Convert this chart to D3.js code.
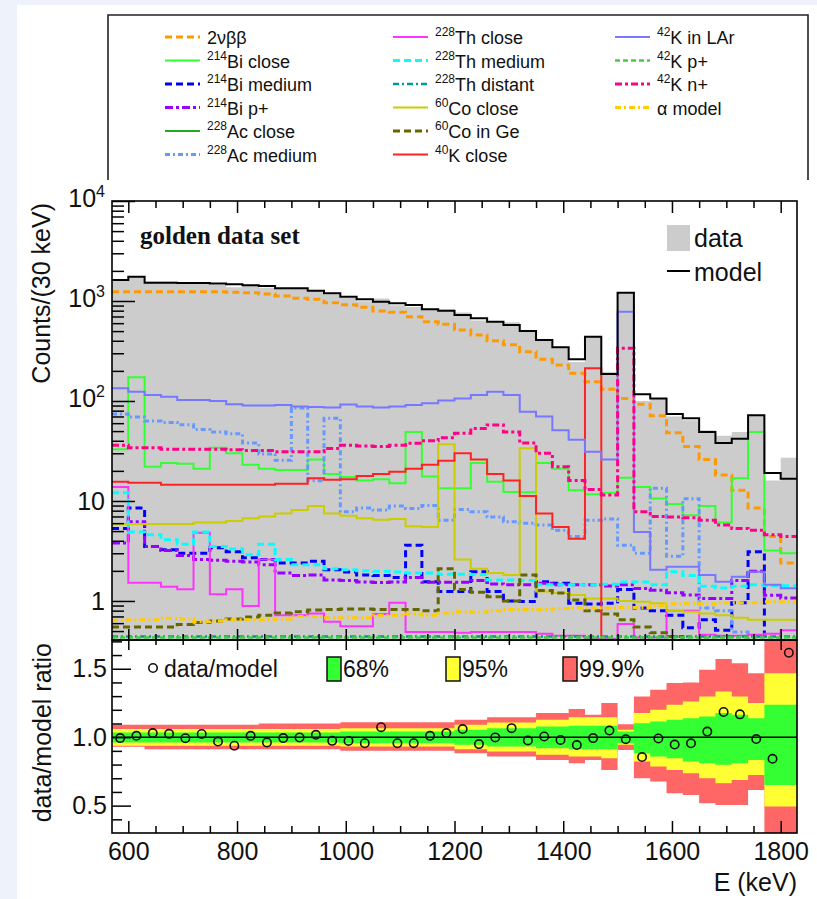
<!DOCTYPE html>
<html>
<head>
<meta charset="utf-8">
<script src="https://cdn.jsdelivr.net/npm/d3@7"></script>
<style>
  body { margin: 0; background: #fff; }
  svg { display: block; }
</style>
</head>
<body>
<svg id="chart" width="817" height="899"></svg>
<script>
// ---------- binning: 30 keV bins from 570 to 1830 keV ----------
const binEdges = [570,600,630,660,690,720,750,780,810,840,870,900,930,960,990,1020,1050,1080,1110,1140,
  1170,1200,1230,1260,1290,1320,1350,1380,1410,1440,1470,1500,1530,1560,1590,1620,1650,1680,1710,1740,1770,1800,1830];

// ---------- counts per 30 keV ----------
const data = [1611,1769,1571,1562,1499,1546,1452,1376,1450,1358,1331,1337,1291,1162,1074,993,1057,906,872,834,
  824,767,637,620,613,489,409,337,246,437,195,1193,100,105,70,64,51,45,49,71,16,27];
const model = [1622,1751,1525,1525,1510,1510,1500,1468,1436,1413,1340,1340,1269,1194,1104,1039,985,948,912,826,
  800,724,671,621,575,501,407,344,261,440,186,1211,117,106,74,67,49,38,42,72,19,16.7];

const twoNuBB = [1240,1240,1240,1240,1240,1240,1240,1221,1211,1175,1122,1064,1039,962,919,865,794,770,697,621,
  584,513,457,401,366,311,261,229,189,156,131,106,93,71,48,35,26,18.2,12.8,8.5,4.4,2.4];
const bi214Close = [33,173,22,24,23.5,21,34,30,23,21,20.4,20.4,26,18.6,17.4,16,16.5,15,49,17.6,
  13.4,13.4,24,15.6,12.3,12.2,24,21,12.8,11.7,12.1,17.1,13.8,10.6,9.3,7.2,8.9,6.1,16.9,49,3.2,3.0];
const bi214Medium = [5.3,8.5,3.5,3.25,3.0,3.0,3.4,3.1,2.7,2.6,2.4,2.4,2.5,2.05,1.95,1.82,1.8,1.72,3.6,1.56,
  1.24,1.24,1.96,1.24,1.0,0.99,1.56,1.5,0.95,0.93,0.95,1.3,0.85,0.8,0.72,0.54,0.65,0.51,0.96,3.1,0.3,0.3];
const bi214Pplus = [3.8,6.2,3.5,3.2,2.85,2.6,2.55,2.5,2.45,2.3,1.9,1.8,1.82,1.62,1.6,1.55,1.53,1.55,1.72,1.54,
  1.54,1.54,1.6,1.48,1.45,1.45,1.5,1.45,1.45,1.45,1.41,1.45,1.33,1.28,1.21,1.15,1.06,1.06,1.6,1.98,1.14,1.07];
const ac228Close = [0.36,0.36,0.35,0.35,0.35,0.35,0.34,0.34,0.34,0.34,0.33,0.33,0.34,0.33,0.33,0.32,0.32,0.32,0.33,0.32,
  0.32,0.31,0.31,0.31,0.31,0.3,0.3,0.3,0.3,0.3,0.29,0.29,0.29,0.29,0.28,0.28,0.28,0.28,0.28,0.27,0.27,0.27];
const ac228Medium = [74,69,63,61,58,52,49,47,38,29.5,25.5,85,15.9,67,7.8,8.5,8.1,8.9,8.4,9.0,
  6.4,8.2,7.8,6.9,6.2,6.0,5.75,5.1,4.4,6.4,6.6,3.6,3.0,13.4,2.8,10.5,0.85,0.8,0.49,0.3,0.3,0.3];
const th228Close = [13.8,1.52,1.52,1.39,1.31,4.8,1.17,1.31,0.89,2.6,0.72,0.72,0.75,0.62,0.56,0.56,0.74,0.96,0.49,0.49,
  0.49,0.48,0.49,0.49,0.49,0.49,0.47,0.45,0.45,0.42,0.42,0.59,0.43,0.43,0.8,0.8,0.46,0.45,0.45,0.46,0.47,0.51];
const th228Medium = [12.1,4.9,4.6,4.1,3.7,4.9,3.5,3.3,2.9,3.7,2.6,2.3,2.3,2.1,2.05,2.0,1.98,1.95,1.9,1.9,
  1.85,1.85,1.84,1.62,1.62,1.6,1.45,1.45,1.45,1.45,1.47,1.55,1.55,1.45,1.96,1.8,1.4,1.35,1.4,1.45,1.42,1.42];
const th228Distant = [0.44,0.44,0.44,0.44,0.44,0.44,0.44,0.44,0.44,0.44,0.44,0.44,0.44,0.44,0.44,0.44,0.44,0.44,0.44,0.44,
  0.44,0.44,0.44,0.44,0.44,0.44,0.44,0.44,0.44,0.44,0.44,0.44,0.44,0.44,0.44,0.44,0.44,0.44,0.44,0.44,0.44,0.44];
const co60Close = [5.9,5.9,5.9,5.9,5.9,6.1,6.1,6.3,6.7,7.0,7.5,8.1,8.9,7.5,7.1,6.7,6.5,6.6,5.6,5.5,
  37,2.6,2.1,1.9,1.82,33.6,1.24,1.2,1.15,1.06,1.06,1.0,0.98,0.95,0.8,0.78,0.75,0.72,0.68,0.65,0.65,0.65];
const co60Ge = [0.55,0.55,0.55,0.55,0.58,0.61,0.63,0.66,0.69,0.72,0.76,0.78,0.81,0.82,0.83,0.83,0.82,0.82,0.82,0.8,
  2.1,1.3,1.22,1.1,1.0,1.82,1.27,1.2,1.02,0.8,0.74,0.65,0.55,0.48,0.44,0.35,0.3,0.3,0.3,0.3,0.3,0.3];
const k40Close = [15.6,15.2,15.2,14.5,14.5,14.5,14.5,14.5,14.5,14.5,14.9,14.9,16.9,16.3,16.5,17.8,18.6,19.6,21,23,
  25.3,30,26,18.6,16,11.2,7.5,5.5,4.2,212,0.3,0.3,0.3,0.3,0.3,0.3,0.3,0.3,0.3,0.3,0.3,0.3];
const k42LAr = [134,124,115,110,102,102,100,93,90,90,91,88,87,86,92,88,86,88,91,95,
  101,106,115,124,115,78,70,51,41,31,26,782,4.9,2.05,2.2,2.2,1.82,1.56,1.75,1.96,1.45,1.34];
const k42Pplus = [0.43,0.43,0.43,0.43,0.43,0.43,0.43,0.43,0.43,0.43,0.43,0.43,0.43,0.43,0.43,0.43,0.43,0.43,0.43,0.43,
  0.43,0.43,0.43,0.43,0.43,0.43,0.43,0.43,0.43,0.43,0.43,0.43,0.43,0.43,0.43,0.43,0.43,0.43,0.43,0.43,0.43,0.43];
const k42Nplus = [36,34,34,33,33,33,33,32.5,32,32,31,31,31,33.5,36,35.5,35,36,37.7,40,
  43,47.5,53,57.5,49,38,30,22,16,13,11.5,336,7.8,7.0,6.9,6.8,6.4,5.75,5.3,5.1,4.6,4.4];
const alphaModel = [0.64,0.65,0.65,0.67,0.66,0.62,0.63,0.65,0.65,0.65,0.66,0.7,0.7,0.68,0.68,0.68,0.72,0.72,0.74,0.72,
  0.76,0.78,0.77,0.8,0.82,0.82,0.82,0.84,0.85,0.85,0.85,0.86,0.86,0.9,0.94,0.95,0.93,0.96,0.96,0.96,0.98,0.98];

// ---------- ratio-panel probability bands (data/model) ----------
const band68Hi = [1.034,1.034,1.034,1.034,1.034,1.034,1.034,1.034,1.034,1.034,1.034,1.034,1.034,1.034,1.041,1.041,1.041,1.041,1.041,1.041,
  1.041,1.054,1.054,1.066,1.066,1.066,1.078,1.078,1.083,1.083,1.083,1.041,1.102,1.115,1.127,1.139,1.151,1.176,1.163,1.139,1.237,1.237];
const band68Lo = [0.961,0.961,0.961,0.961,0.961,0.961,0.961,0.961,0.961,0.961,0.961,0.961,0.961,0.961,0.956,0.956,0.956,0.956,0.956,0.956,
  0.956,0.944,0.944,0.932,0.932,0.932,0.92,0.92,0.912,0.912,0.912,0.956,0.883,0.859,0.846,0.822,0.81,0.798,0.81,0.834,0.651,0.651];
const band95Hi = [1.059,1.059,1.059,1.059,1.059,1.059,1.059,1.059,1.059,1.059,1.059,1.059,1.059,1.059,1.066,1.066,1.066,1.066,1.066,1.066,
  1.066,1.09,1.09,1.107,1.107,1.107,1.127,1.127,1.146,1.146,1.146,1.054,1.176,1.2,1.237,1.261,1.298,1.334,1.298,1.249,1.468,1.468];
const band95Lo = [0.937,0.937,0.937,0.937,0.937,0.937,0.937,0.937,0.937,0.937,0.937,0.937,0.937,0.937,0.932,0.932,0.932,0.932,0.932,0.932,
  0.932,0.912,0.912,0.895,0.895,0.895,0.871,0.871,0.859,0.859,0.846,0.944,0.822,0.785,0.761,0.737,0.7,0.663,0.688,0.724,0.493,0.493];
const band999Hi = [1.09,1.09,1.09,1.09,1.09,1.09,1.09,1.09,1.09,1.1,1.1,1.1,1.1,1.1,1.11,1.11,1.11,1.11,1.11,1.11,
  1.11,1.127,1.127,1.146,1.146,1.146,1.176,1.176,1.205,1.163,1.249,1.095,1.298,1.346,1.395,1.4,1.493,1.571,1.541,1.468,1.8,1.8];
const band999Lo = [0.93,0.93,0.912,0.912,0.912,0.912,0.912,0.912,0.912,0.912,0.912,0.912,0.912,0.912,0.9,0.9,0.9,0.9,0.9,0.9,
  0.9,0.883,0.883,0.859,0.859,0.859,0.834,0.834,0.81,0.834,0.761,0.907,0.7,0.676,0.59,0.578,0.517,0.505,0.505,0.615,0.2,0.2];

// ---------- axis tick labels ----------
const xTickLabels = [600,800,1000,1200,1400,1600,1800];
const countDecades = [1,10,100,1000,10000];
const ratioTickLabels = [0.5,1.0,1.5];

// ---------- component list (legend order) ----------
const components = [
  {key:"twoNuBB",     values:twoNuBB,     sup:"",    label:"2νββ",      color:"#ff9900", w:3,   dash:"7,4"},
  {key:"bi214Close",  values:bi214Close,  sup:"214", label:"Bi close",  color:"#33ff33", w:2,   dash:null},
  {key:"bi214Medium", values:bi214Medium, sup:"214", label:"Bi medium", color:"#0000ff", w:3,   dash:"7,4"},
  {key:"bi214Pplus",  values:bi214Pplus,  sup:"214", label:"Bi p+",     color:"#9900ff", w:3,   dash:"8,3,3,3"},
  {key:"ac228Close",  values:ac228Close,  sup:"228", label:"Ac close",  color:"#22aa22", w:2,   dash:null},
  {key:"ac228Medium", values:ac228Medium, sup:"228", label:"Ac medium", color:"#6699ff", w:3,   dash:"5,3,2,3"},
  {key:"th228Close",  values:th228Close,  sup:"228", label:"Th close",  color:"#ff33ff", w:2,   dash:null},
  {key:"th228Medium", values:th228Medium, sup:"228", label:"Th medium", color:"#00ffff", w:3,   dash:"7,4"},
  {key:"th228Distant",values:th228Distant,sup:"228", label:"Th distant",color:"#009999", w:2.5, dash:"6,3,2,3"},
  {key:"co60Close",   values:co60Close,   sup:"60",  label:"Co close",  color:"#cccc00", w:2,   dash:null},
  {key:"co60Ge",      values:co60Ge,      sup:"60",  label:"Co in Ge",  color:"#666600", w:3,   dash:"7,4"},
  {key:"k40Close",    values:k40Close,    sup:"40",  label:"K close",   color:"#ff2222", w:2,   dash:null},
  {key:"k42LAr",      values:k42LAr,      sup:"42",  label:"K in LAr",  color:"#7777ff", w:2,   dash:null},
  {key:"k42Pplus",    values:k42Pplus,    sup:"42",  label:"K p+",      color:"#44cc44", w:2.5, dash:"5,3"},
  {key:"k42Nplus",    values:k42Nplus,    sup:"42",  label:"K n+",      color:"#ff0088", w:3,   dash:"7,3,3,3"},
  {key:"alphaModel",  values:alphaModel,  sup:"",    label:"α model",   color:"#ffcc00", w:3,   dash:"6,3,2,3"}
];

// ---------- layout ----------
const W = 817, H = 899;
const plotL = 112, plotR = 797, topT = 201, topB = 640, ratB = 833;
const FONT = "'Liberation Sans', Arial, Helvetica, sans-serif";

const svg = d3.select("#chart");
svg.append("rect").attr("width", W).attr("height", H).attr("fill", "#fff");
svg.append("rect").attr("x", 0).attr("y", 0).attr("width", 17).attr("height", H).attr("fill", "#eef2fb");
svg.append("rect").attr("x", 0).attr("y", 0).attr("width", W).attr("height", 5).attr("fill", "#eef2fb");

const x = d3.scaleLinear().domain([570, 1830]).range([plotL, plotR]);
const y = d3.scaleLog().domain([0.407, 1e4]).range([topB, topT]);
const yr = d3.scaleLinear().domain([0.3, 1.71]).range([ratB, topB]);

const defs = svg.append("defs");
defs.append("clipPath").attr("id", "clipTop").append("rect")
  .attr("x", plotL).attr("y", topT).attr("width", plotR - plotL).attr("height", topB - topT);
defs.append("clipPath").attr("id", "clipRatio").append("rect")
  .attr("x", plotL).attr("y", topB).attr("width", plotR - plotL).attr("height", ratB - topB);

// step points: each bin contributes its left and right edge at the bin value
function stepPoints(vals) {
  const pts = [];
  vals.forEach((v, i) => { pts.push([binEdges[i], v]); pts.push([binEdges[i + 1], v]); });
  return pts;
}
const floorVal = 0.2;
const histLine = d3.line().x(d => x(d[0])).y(d => y(Math.max(d[1], floorVal)));

// ---------- upper panel ----------
const upper = svg.append("g").attr("clip-path", "url(#clipTop)");

// data: grey filled histogram
const dataArea = d3.area().x(d => x(d[0])).y0(topB + 5).y1(d => y(Math.max(d[1], floorVal)));
upper.append("path").attr("d", dataArea(stepPoints(data))).attr("fill", "#cccccc");

// background components
components.forEach(c => {
  upper.append("path")
    .attr("d", histLine(stepPoints(c.values)))
    .attr("fill", "none")
    .attr("stroke", c.color)
    .attr("stroke-width", c.w)
    .attr("stroke-dasharray", c.dash)
    .attr("stroke-linejoin", "miter");
});

// total model
upper.append("path").attr("d", histLine(stepPoints(model)))
  .attr("fill", "none").attr("stroke", "#000").attr("stroke-width", 2);

// ---------- ratio panel ----------
const ratio = data.map((d, i) => d / model[i]);
const rat = svg.append("g").attr("clip-path", "url(#clipRatio)");
const bandArea = d3.area().x(d => x(d[0])).y0(d => yr(d[1])).y1(d => yr(d[2]));
function bandPoints(lo, hi) {
  const pts = [];
  lo.forEach((l, i) => { pts.push([binEdges[i], l, hi[i]]); pts.push([binEdges[i + 1], l, hi[i]]); });
  return pts;
}
rat.append("path").attr("d", bandArea(bandPoints(band999Lo, band999Hi))).attr("fill", "#ff6666");
rat.append("path").attr("d", bandArea(bandPoints(band95Lo, band95Hi))).attr("fill", "#ffff33");
rat.append("path").attr("d", bandArea(bandPoints(band68Lo, band68Hi))).attr("fill", "#33ff33");
rat.append("line").attr("x1", plotL).attr("x2", plotR).attr("y1", yr(1)).attr("y2", yr(1))
  .attr("stroke", "#000").attr("stroke-width", 1.6);
rat.selectAll("circle.pt").data(ratio).join("circle").attr("class", "pt")
  .attr("cx", (d, i) => x((binEdges[i] + binEdges[i + 1]) / 2))
  .attr("cy", d => yr(d))
  .attr("r", 4.2)
  .attr("fill", "none").attr("stroke", "#111").attr("stroke-width", 1.6);

// ---------- axes ----------
const xMinor = [];
for (let e = 600; e <= 1800; e += 50) if (e % 200 !== 0) xMinor.push(e);
const yMinor = [];
[0.1, 1, 10, 100, 1000].forEach(dec => { for (let k = 2; k <= 9; k++) { const v = k * dec; if (v > 0.407 && v < 1e4) yMinor.push(v); } });
const rMinor = [0.4,0.6,0.7,0.8,0.9,1.1,1.2,1.3,1.4,1.6,1.7];

function styleAxis(g) {
  g.select(".domain").remove();
  g.selectAll(".tick line").attr("stroke", "#000").attr("stroke-width", 1.5);
  g.attr("font-family", FONT).attr("font-size", 25).attr("fill", "#111");
  g.selectAll(".tick text").attr("fill", "#111");
}
function addAxis(axis, tx, ty) {
  const g = svg.append("g").attr("transform", `translate(${tx},${ty})`).call(axis);
  styleAxis(g);
  return g;
}

// upper panel ticks
addAxis(d3.axisLeft(y).tickValues(countDecades).tickSize(-23).tickFormat(""), plotL, 0);
addAxis(d3.axisLeft(y).tickValues(yMinor).tickSize(-12).tickFormat(""), plotL, 0);
addAxis(d3.axisTop(x).tickValues(xTickLabels).tickSize(-12).tickFormat(""), 0, topT);
addAxis(d3.axisTop(x).tickValues(xMinor).tickSize(-7).tickFormat(""), 0, topT);
addAxis(d3.axisBottom(x).tickValues(xTickLabels).tickSize(-11).tickFormat(""), 0, topB);
addAxis(d3.axisBottom(x).tickValues(xMinor).tickSize(-6).tickFormat(""), 0, topB);

// ratio panel ticks
addAxis(d3.axisLeft(yr).tickValues(ratioTickLabels).tickSize(-19).tickPadding(5).tickFormat(d3.format(".1f")), plotL, 0);
addAxis(d3.axisLeft(yr).tickValues(rMinor).tickSize(-10).tickFormat(""), plotL, 0);
addAxis(d3.axisTop(x).tickValues(xTickLabels).tickSize(-10).tickFormat(""), 0, topB);
addAxis(d3.axisTop(x).tickValues(xMinor).tickSize(-5).tickFormat(""), 0, topB);
addAxis(d3.axisBottom(x).tickValues(xTickLabels).tickSize(-12).tickPadding(9).tickFormat(d3.format("d")), 0, ratB);
addAxis(d3.axisBottom(x).tickValues(xMinor).tickSize(-7).tickFormat(""), 0, ratB);

// log-axis labels with exponents
countDecades.forEach(v => {
  const e = Math.round(Math.log10(v));
  const t = svg.append("text").attr("font-family", FONT).attr("fill", "#111").attr("text-anchor", "end");
  if (e <= 1) {
    t.attr("x", 105).attr("y", y(v) + 9).attr("font-size", 25).text(v === 1 ? "1" : "10");
  } else {
    t.attr("x", 105).attr("y", y(v) + 6);
    t.append("tspan").attr("font-size", 25).text("10");
    t.append("tspan").attr("font-size", 16).attr("dy", -10).text(String(e));
  }
});

// frames
svg.append("rect").attr("x", plotL).attr("y", topT).attr("width", plotR - plotL).attr("height", topB - topT)
  .attr("fill", "none").attr("stroke", "#000").attr("stroke-width", 1.6);
svg.append("rect").attr("x", plotL).attr("y", topB).attr("width", plotR - plotL).attr("height", ratB - topB)
  .attr("fill", "none").attr("stroke", "#000").attr("stroke-width", 1.6);

// axis titles
svg.append("text").attr("transform", `translate(50,${topT + 2}) rotate(-90)`)
  .attr("text-anchor", "end").attr("font-family", FONT).attr("font-size", 25).attr("fill", "#111")
  .text("Counts/(30 keV)");
svg.append("text").attr("transform", `translate(51,${topB + 3}) rotate(-90)`)
  .attr("text-anchor", "end").attr("font-family", FONT).attr("font-size", 25).attr("fill", "#111")
  .text("data/model ratio");
svg.append("text").attr("x", plotR).attr("y", 891).attr("text-anchor", "end")
  .attr("font-family", FONT).attr("font-size", 25).attr("fill", "#111").text("E (keV)");

// panel caption
svg.append("text").attr("x", 140).attr("y", 244)
  .attr("font-family", "'Liberation Serif', 'Times New Roman', serif").attr("font-weight", "bold")
  .attr("font-size", 25).attr("fill", "#111").text("golden data set");

// data / model legend
svg.append("rect").attr("x", 667).attr("y", 225).attr("width", 23).attr("height", 26).attr("fill", "#cccccc");
svg.append("text").attr("x", 694).attr("y", 247).attr("font-family", FONT).attr("font-size", 25)
  .attr("fill", "#111").text("data");
svg.append("line").attr("x1", 667).attr("x2", 690).attr("y1", 271).attr("y2", 271)
  .attr("stroke", "#000").attr("stroke-width", 2);
svg.append("text").attr("x", 694).attr("y", 281).attr("font-family", FONT).attr("font-size", 25)
  .attr("fill", "#111").text("model");

// ratio legend
svg.append("circle").attr("cx", 153).attr("cy", 668).attr("r", 4.2)
  .attr("fill", "none").attr("stroke", "#111").attr("stroke-width", 1.6);
svg.append("text").attr("x", 164).attr("y", 677).attr("font-family", FONT).attr("font-size", 23)
  .attr("fill", "#111").text("data/model");
const bandLegend = [
  {x: 327, fill: "#33ff33", label: "68%"},
  {x: 446, fill: "#ffff33", label: "95%"},
  {x: 563, fill: "#ff6666", label: "99.9%"}
];
bandLegend.forEach(b => {
  svg.append("rect").attr("x", b.x).attr("y", 657).attr("width", 14).attr("height", 24)
    .attr("fill", b.fill).attr("stroke", "#111").attr("stroke-width", 1.5);
  svg.append("text").attr("x", b.x + 16).attr("y", 677).attr("font-family", FONT).attr("font-size", 23)
    .attr("fill", "#111").text(b.label);
});

// ---------- component legend box ----------
const lg = svg.append("g");
lg.append("path").attr("d", "M108,180 V15 H808 V180").attr("fill", "none")
  .attr("stroke", "#222").attr("stroke-width", 1.6);
const colX = [165, 393, 615];
const rowY = [37, 60.5, 84, 107.5, 131, 154.5];
components.forEach((c, i) => {
  const col = Math.floor(i / 6), row = i % 6;
  const lx = colX[col], ly = rowY[row];
  lg.append("line").attr("x1", lx).attr("x2", lx + 35).attr("y1", ly).attr("y2", ly)
    .attr("stroke", c.color).attr("stroke-width", c.w).attr("stroke-dasharray", c.dash);
  const t = lg.append("text").attr("x", lx + 42).attr("y", ly + 7)
    .attr("font-family", FONT).attr("font-size", 18).attr("fill", "#111");
  if (c.sup) {
    t.append("tspan").attr("font-size", 12).attr("dy", -8).text(c.sup);
    t.append("tspan").attr("dy", 8).text(c.label);
  } else {
    t.append("tspan").text(c.label);
  }
});
</script>
</body>
</html>
